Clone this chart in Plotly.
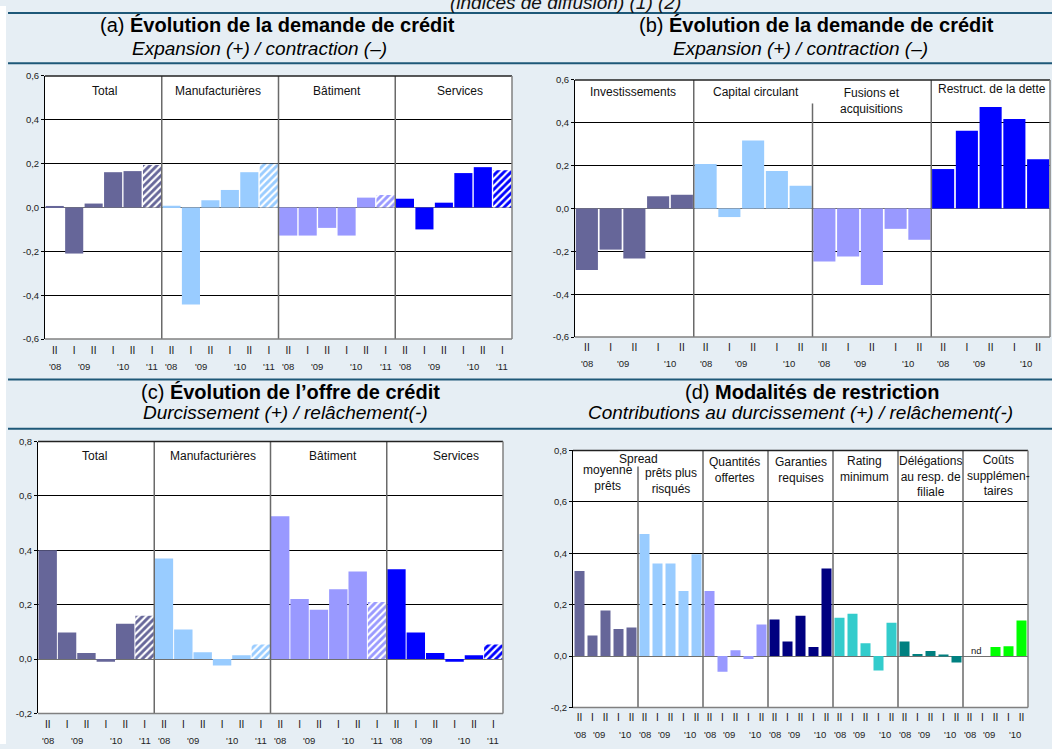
import numpy as np
import plotly.graph_objects as go

W, H = 1052, 749
FONT = "Liberation Sans, Arial, sans-serif"
BG = "#E6EEF4"
RULE = "#1E5878"

# ---------------------------------------------------------------- data
periods_long = ["II'08", "I'09", "II'09", "I'10", "II'10", "I'11"]
periods_short = ["II'08", "I'09", "II'09", "I'10", "II'10"]

sector_names = ["Total", "Manufacturières", "Bâtiment", "Services"]
sector_colors = ["#666699", "#99CCFF", "#9999FF", "#0000FF"]

# (a) demand for credit by sector
demand_total = [0.005, -0.21, 0.018, 0.161, 0.166, 0.194]
demand_manuf = [0.008, -0.443, 0.033, 0.08, 0.161, 0.2]
demand_build = [-0.128, -0.128, -0.093, -0.128, 0.045, 0.057]
demand_serv = [0.04, -0.10, 0.022, 0.157, 0.184, 0.17]

# (b) demand for credit by purpose
purpose_names = ["Investissements", "Capital circulant", "Fusions et<br>acquisitions",
                 "Restruct. de la dette"]
purpose_invest = [-0.287, -0.192, -0.233, 0.057, 0.064]
purpose_capital = [0.207, -0.04, 0.317, 0.175, 0.106]
purpose_merger = [-0.247, -0.224, -0.357, -0.095, -0.146]
purpose_restruct = [0.184, 0.363, 0.474, 0.418, 0.23]

# (c) supply of credit by sector
supply_total = [0.40, 0.098, 0.022, -0.01, 0.13, 0.159]
supply_manuf = [0.37, 0.109, 0.025, -0.024, 0.014, 0.054]
supply_build = [0.525, 0.221, 0.181, 0.257, 0.322, 0.21]
supply_serv = [0.33, 0.098, 0.022, -0.01, 0.014, 0.054]

# (d) restriction terms
term_names = ["moyenne<br>prêts", "prêts plus<br>risqués", "Quantités<br>offertes",
              "Garanties<br>requises", "Rating<br>minimum",
              "Délégations<br>au resp. de<br>filiale", "Coûts<br>supplémen-<br>taires"]
term_colors = ["#666699", "#99CCFF", "#9999FF", "#000080", "#33CCCC", "#008080", "#00FF00"]
term_spread_avg = [0.331, 0.08, 0.177, 0.105, 0.111]
term_spread_risk = [0.475, 0.36, 0.36, 0.253, 0.396]
term_quantity = [0.253, -0.061, 0.023, -0.011, 0.123]
term_guarantee = [0.142, 0.057, 0.157, 0.035, 0.341]
term_rating = [0.149, 0.165, 0.05, -0.056, 0.13]
term_delegation = [0.057, 0.008, 0.02, 0.003, -0.025]
term_costs = [None, None, 0.035, 0.038, 0.138]

# ---------------------------------------------------------------- layout helpers
def fx(px):
    return px / W


def fy(py):
    return 1 - py / H


panels = [
    dict(box=(45, 512, 71, 338), yr=(-0.6, 0.6), periods=periods_long,
         names=sector_names, colors=sector_colors, hatch_last=True, bar_w=0.93,
         series=[demand_total, demand_manuf, demand_build, demand_serv],
         head_y=[86, 86, 86, 86], head_dx=[1, -2, 0, 6], head_size=12,
         tick_y=349, year_y=366, div_top={}),
    dict(box=(575, 1050, 75, 336), yr=(-0.6, 0.6), periods=periods_short,
         names=purpose_names, colors=sector_colors, hatch_last=False, bar_w=0.93,
         series=[purpose_invest, purpose_capital, purpose_merger, purpose_restruct],
         head_y=[87, 87, 96, 84], head_dx=[-1, 3, 0, 1], head_size=12,
         tick_y=346, year_y=363, div_top={2: 0.49}),
    dict(box=(38, 503, 442, 718), yr=(-0.2, 0.8), periods=periods_long,
         names=sector_names, colors=sector_colors, hatch_last=True, bar_w=0.95,
         series=[supply_total, supply_manuf, supply_build, supply_serv],
         head_y=[457, 457, 457, 457], head_dx=[-2, 1, 4, 11], head_size=12,
         tick_y=729, year_y=745, div_top={}),
    dict(box=(573, 1028, 451, 712), yr=(-0.2, 0.8), periods=periods_short,
         names=term_names, colors=term_colors, hatch_last=False, bar_w=0.77,
         series=[term_spread_avg, term_spread_risk, term_quantity, term_guarantee,
                 term_rating, term_delegation, term_costs],
         head_y=[479, 482.5, 470.5, 470.5, 470, 477.5, 476.5],
         head_dx=[2, 0, -1, 0, -1, 0, 3], head_size=12,
         tick_y=721, year_y=739, div_top={1: 0.74}),
]

titles = [
    ("(a) <b>Évolution de la demande de crédit</b>", 277, 19),
    ("<i>Expansion (+) / contraction (–)</i>", 259, 43),
    ("(b) <b>Évolution de la demande de crédit</b>", 816, 19),
    ("<i>Expansion (+) / contraction (–)</i>", 800, 43),
    ("(c) <b>Évolution de l’offre de crédit</b>", 290, 392),
    ("<i>Durcissement (+) / relâchement(-)</i>", 285, 413),
    ("(d) <b>Modalités de restriction</b>", 812, 392),
    ("<i>Contributions au durcissement (+) / relâchement(-)</i>", 800, 413),
]

fig = go.Figure()
layout = dict(
    width=W, height=H, autosize=False,
    margin=dict(l=0, r=0, t=0, b=0),
    paper_bgcolor=BG, plot_bgcolor="white",
    barmode="overlay", showlegend=False,
    font=dict(family=FONT, color="#000000"),
)
shapes = []
annotations = []

# white strip on the left edge and the dark rules around the headers
shapes.append(dict(type="rect", xref="paper", yref="paper", x0=0, x1=fx(6), y0=0, y1=1,
                   fillcolor="white", line=dict(width=0), layer="below"))
for ry in (7, 58, 379, 429):
    shapes.append(dict(type="line", xref="paper", yref="paper", x0=fx(8), x1=1,
                       y0=fy(ry), y1=fy(ry), line=dict(color=RULE, width=2)))

# continuation of the page heading, running off the top edge
annotations.append(dict(text="<i>(indices de diffusion) (1) (2)</i>", xref="paper", yref="paper",
                        x=fx(565), y=fy(-4), xanchor="center", yanchor="middle",
                        showarrow=False, font=dict(size=19, color="#111")))
for i, (txt, cx, cy) in enumerate(titles):
    size = 20 if i % 2 == 0 else 19
    annotations.append(dict(text=txt, xref="paper", yref="paper", x=fx(cx), y=fy(cy),
                            xanchor="center", yanchor="middle", showarrow=False,
                            font=dict(size=size, color="#000")))

for i, p in enumerate(panels, start=1):
    xa = "x" if i == 1 else f"x{i}"
    ya = "y" if i == 1 else f"y{i}"
    xkey = "xaxis" if i == 1 else f"xaxis{i}"
    ykey = "yaxis" if i == 1 else f"yaxis{i}"
    x0, x1, ytop, ybot = p["box"]
    n_per = len(p["periods"])
    n_grp = len(p["series"])
    n_all = n_per * n_grp

    for g, (vals, col) in enumerate(zip(p["series"], p["colors"])):
        xs = [g * n_per + k for k in range(n_per)]
        pat = ["/" if (p["hatch_last"] and k == n_per - 1) else "" for k in range(n_per)]
        fig.add_trace(go.Bar(
            x=xs, y=vals, xaxis=xa, yaxis=ya, width=p["bar_w"],
            marker=dict(color=col, line=dict(width=0),
                        pattern=dict(shape=pat, fillmode="replace", bgcolor=col,
                                     fgcolor="white", size=5, solidity=0.42)),
            hoverinfo="y",
        ))

    lo, hi = p["yr"]
    tv = np.round(np.arange(lo, hi + 0.001, 0.2), 1)
    layout[ykey] = dict(
        domain=[fy(ybot), fy(ytop)], range=[lo, hi], anchor=xa,
        tickvals=list(tv), ticktext=[f"{v:.1f}".replace(".", ",") for v in tv],
        showgrid=True, gridcolor="#000000", gridwidth=1,
        zeroline=True, zerolinecolor="#707070", zerolinewidth=1,
        showline=True, linecolor="#000000", linewidth=1,
        ticks="outside", ticklen=3, tickcolor="#000000",
        tickfont=dict(size=9.5, color="#222"), fixedrange=True,
    )
    halves = [per.split("'")[0] for per in p["periods"]] * n_grp
    layout[xkey] = dict(
        domain=[fx(x0), fx(x1)], range=[-0.5, n_all - 0.5], anchor=ya,
        tickvals=list(range(n_all)), ticktext=halves,
        showgrid=False, zeroline=False, showline=False, ticks="",
        tickfont=dict(size=10, color="#111"), fixedrange=True,
        ticklabelstandoff=max(0, p["tick_y"] - ybot - 7),
    )

    # year labels centred under each year's half-years
    yrs = [per.split("'")[1] for per in p["periods"]]
    for g in range(n_grp):
        for yv in dict.fromkeys(yrs):
            idx = [g * n_per + k for k, y in enumerate(yrs) if y == yv]
            annotations.append(dict(text="'" + yv, xref=xa, yref="paper",
                                    x=sum(idx) / len(idx), y=fy(p["year_y"]),
                                    xanchor="center", yanchor="middle", showarrow=False,
                                    font=dict(size=9.5, color="#222")))

    # group headers
    for g, name in enumerate(p["names"]):
        annotations.append(dict(text=name, xref=xa, yref="paper",
                                x=g * n_per + (n_per - 1) / 2, y=fy(p["head_y"][g]),
                                xshift=p["head_dx"][g], xanchor="center", yanchor="middle",
                                showarrow=False,
                                font=dict(size=p["head_size"], color="#111")))

    # group dividers
    for g in range(1, n_grp):
        top = p["div_top"].get(g, hi)
        shapes.append(dict(type="line", xref=xa, yref=ya, x0=g * n_per - 0.5,
                           x1=g * n_per - 0.5, y0=lo, y1=top,
                           line=dict(color="#6A6A6A", width=1.5)))
    # frame: top, right, bottom
    shapes.append(dict(type="line", xref=f"{xa} domain", yref=f"{ya} domain",
                       x0=0, x1=1, y0=1, y1=1, line=dict(color="#222", width=1.5)))
    shapes.append(dict(type="line", xref=f"{xa} domain", yref=f"{ya} domain",
                       x0=1, x1=1, y0=0, y1=1, line=dict(color="#808080", width=1.5)))
    shapes.append(dict(type="line", xref=f"{xa} domain", yref=f"{ya} domain",
                       x0=0, x1=1, y0=0, y1=0, line=dict(color="#808080", width=1.5)))

# panel (d): shared "Spread" heading and the missing observations
annotations.append(dict(text="Spread", xref="x4", yref="paper", x=4.5, y=fy(460),
                        xanchor="center", yanchor="middle", showarrow=False,
                        bgcolor="white", borderpad=0, font=dict(size=12, color="#111")))
annotations.append(dict(text="nd", xref="x4", yref="paper", x=6 * 5 + 0.5, y=fy(654),
                        xanchor="center", yanchor="middle", showarrow=False,
                        font=dict(size=9.5, color="#222")))

layout["shapes"] = shapes
layout["annotations"] = annotations
fig.update_layout(**layout)
fig.write_html("out.html")
